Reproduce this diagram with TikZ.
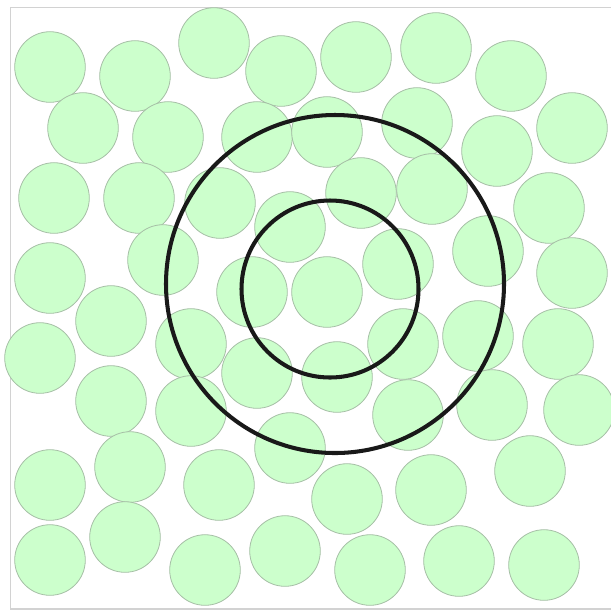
\documentclass[tikz,border=0pt]{standalone}
\usepackage{tikz}

\definecolor{discfill}{RGB}{204,255,204}
\definecolor{discedge}{RGB}{165,190,165}
\definecolor{framegray}{RGB}{210,210,210}

\tikzset{
  disc/.style={fill=discfill,draw=discedge,line width=0.45pt},
  ring/.style={draw=black!90,line width=2.3pt}
}

\begin{document}
\begin{tikzpicture}[x=0.02cm,y=-0.02cm]
  \useasboundingbox (0,0) rectangle (611,610);
  % marco
  \draw[framegray,line width=0.6pt] (611.5,7.5)--(10.5,7.5)--(10.5,609)--(611.5,609);
  % discos
  \foreach \x/\y in {50/67,135/76,214/43,281/71,83/128,168/137,257/137,327/132,
                     54/198,139/198,220/203,290/227,50/278,163/260,252/292,111/321,
                     356/57,436/48,511/76,572/128,417/123,497/151,361/193,432/189,
                     549/208,398/264,488/251,572/273,327/292,403/344,478/336,558/344,
                     337/377,408/415,492/405,579/410,347/499,431/490,530/471,370/570,
                     459/561,544/565,40/358,191/344,257/373,111/401,191/411,290/448,
                     50/485,130/467,219/485,50/560,125/537,205/570,285/551}
    \draw[disc] (\x,\y) circle (35.3);
  % anillos
  \coordinate (O1) at (335,284); \coordinate (O2) at (330,289);
  \draw[ring] (O1) circle (169);
  \draw[ring] (O2) circle (88.5);
\end{tikzpicture}
\end{document}
